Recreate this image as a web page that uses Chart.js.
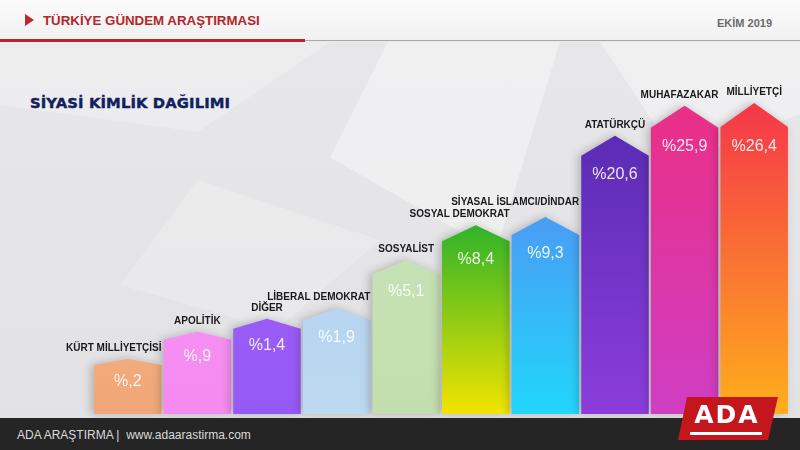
<!DOCTYPE html>
<html><head><meta charset="utf-8">
<script src="https://cdn.jsdelivr.net/npm/chart.js@4"></script>
<style>
html,body{margin:0;padding:0;}
body{width:800px;height:450px;position:relative;overflow:hidden;font-family:"Liberation Sans",Arial,sans-serif;
 background:linear-gradient(180deg,#fbfbfb 0,#f1f1f1 39px,#e7e7e9 42px,#e2e2e4 100%);}
.facet{position:absolute;background:rgba(255,255,255,0.38);}
#redline{position:absolute;left:0;top:39px;width:305px;height:3px;background:#b8262c;}
#greyline{position:absolute;left:305px;top:40px;width:495px;height:1px;background:#a9a9a9;}
#tri{position:absolute;left:25px;top:14px;width:0;height:0;border-top:6px solid transparent;border-bottom:6px solid transparent;border-left:9px solid #c0272d;}
#htitle{position:absolute;left:43px;top:13px;font-size:13.3px;font-weight:bold;color:#b5262c;}
#date{position:absolute;right:28px;top:17px;font-size:11px;font-weight:bold;color:#6b6b6b;}
#title{position:absolute;left:30px;top:94px;font-size:14.8px;font-weight:bold;color:#10215e;-webkit-text-stroke:0.4px #10215e;font-family:"DejaVu Sans",sans-serif;letter-spacing:0.1px;}
#footer{position:absolute;left:0;top:418px;width:800px;height:32px;background:#252525;z-index:2;}
#ftext{position:absolute;left:17px;top:428px;font-size:12px;color:#dadada;z-index:3;white-space:pre;}
#logo{position:absolute;left:678px;top:397px;width:100px;height:43px;background:#c4171d;z-index:4;
 clip-path:polygon(9px 0,100px 0,90px 43px,0 43px);}
#logotxt{position:absolute;left:688px;top:400px;width:78px;text-align:center;font-size:25px;font-weight:bold;color:#fff;z-index:5;letter-spacing:2px;font-family:"DejaVu Sans",sans-serif;}
#logostrip{position:absolute;left:690px;top:432px;width:72px;height:3px;background:#fff;z-index:5;}
canvas{position:absolute;left:0;top:0;z-index:1;}
</style></head>
<body>
<div class="facet" style="left:330px;top:42px;width:230px;height:210px;clip-path:polygon(25% 0,100% 0,72% 100%,0 55%);"></div>
<div class="facet" style="left:600px;top:42px;width:200px;height:120px;clip-path:polygon(0 0,100% 0,100% 60%,40% 100%);"></div>
<div class="facet" style="left:0;top:42px;width:330px;height:90px;background:rgba(255,255,255,0.25);clip-path:polygon(0 0,100% 0,60% 100%,0 70%);"></div>
<div class="facet" style="left:120px;top:180px;width:260px;height:150px;background:rgba(255,255,255,0.2);clip-path:polygon(30% 0,100% 40%,60% 100%,0 70%);"></div>
<div id="tri"></div>
<div id="htitle">TÜRKİYE GÜNDEM ARAŞTIRMASI</div>
<div id="date">EKİM 2019</div>
<div id="redline"></div><div id="greyline"></div>
<div id="title">SİYASİ KİMLİK DAĞILIMI</div>
<canvas id="c" width="800" height="450"></canvas>
<div id="footer"></div>
<div id="ftext">ADA ARAŞTIRMA |  www.adaarastirma.com</div>
<div id="logo"></div>
<div id="logotxt">ADA</div>
<div id="logostrip"></div>
<script>
// ---- data ----
const categories = ['KÜRT MİLLİYETÇİSİ','APOLİTİK','DİĞER','LİBERAL DEMOKRAT','SOSYALİST','SOSYAL DEMOKRAT','SİYASAL İSLAMCI/DİNDAR','ATATÜRKÇÜ','MUHAFAZAKAR','MİLLİYETÇİ'];
const values = [0.2, 0.9, 1.4, 1.9, 5.1, 8.4, 9.3, 20.6, 25.9, 26.4];
// ---- styles ----
const colorTop =    ['#f2ab7c','#f68ef3','#9a5cf6','#b7d5f1','#c6e2b4','#2fb32a','#4a9cf5','#5a2cb5','#ea2f86','#f5364a'];
const colorBottom = ['#f0a676','#f58af0','#955af5','#bcd9f0','#c3deae','#f2e400','#21d6fa','#8c3ddb','#cf3ec4','#ffae1c'];
const Y_MIN = -0.314;

function fmt(v){ const s=v.toFixed(1).replace('.',','); return '%' + (v<1 ? s.replace(/^0/,'') : s); }

const sq = v => Math.sign(v)*Math.sqrt(Math.abs(v));
class SqrtScale extends Chart.LinearScale {
  static id = 'sqrt';
  static defaults = {};
  getPixelForValue(value){
    const a=sq(this.min), b=sq(this.max);
    return this.getPixelForDecimal((sq(value)-a)/(b-a));
  }
  getValueForPixel(pixel){
    const a=sq(this.min), b=sq(this.max);
    const s=a+this.getDecimalForPixel(pixel)*(b-a);
    return Math.sign(s)*s*s;
  }
}
Chart.register(SqrtScale);

const roofPlugin = {
  id:'roofs',
  afterDatasetsDraw(chart){
    const ctx=chart.ctx;
    const meta=chart.getDatasetMeta(0);
    const bars=meta.data.map((el,i)=>{
      const p=el.getProps(['x','y','base','width'],true);
      return {...p, drop:6+2*i};
    });
    bars.forEach((b,i)=>{
      const l=b.x-b.width/2, r=b.x+b.width/2;
      const g=ctx.createLinearGradient(0,b.y,0,b.base);
      g.addColorStop(0,colorTop[i]); g.addColorStop(1,colorBottom[i]);
      ctx.save();
      ctx.shadowColor='rgba(0,0,0,0.22)'; ctx.shadowBlur=8; ctx.shadowOffsetX=-3;
      ctx.beginPath();
      ctx.moveTo(l,b.base); ctx.lineTo(l,b.y+b.drop); ctx.lineTo(b.x,b.y);
      ctx.lineTo(r,b.y+b.drop); ctx.lineTo(r,b.base); ctx.closePath();
      ctx.fillStyle=g; ctx.fill();
      ctx.restore();
    });
    ctx.save();
    let prev=null;
    bars.forEach((b,i)=>{
      ctx.font='16px "Liberation Sans", Arial, sans-serif';
      ctx.fillStyle='rgba(255,255,255,0.88)';
      ctx.textAlign='center'; ctx.textBaseline='middle';
      ctx.fillText(fmt(values[i]), b.x, b.y+b.drop*1.2+15);
      ctx.font='bold 10px "Liberation Sans", Arial, sans-serif';
      ctx.fillStyle='#1a1a1a';
      const w=ctx.measureText(categories[i]).width;
      const r=b.x+b.width/2;
      const cx=Math.min(b.x, r-w/2);
      let by=b.y-8;
      if(prev && cx-w/2 < prev.right && by > prev.base-10){ by = prev.base-12; }
      ctx.textBaseline='alphabetic';
      ctx.fillText(categories[i], cx, by);
      prev={right:cx+w/2, base:by};
    });
    ctx.restore();
  }
};

new Chart(document.getElementById('c'), {
  type:'bar',
  data:{ labels:categories, datasets:[{ data:values, base:Y_MIN, backgroundColor:'rgba(0,0,0,0)', borderWidth:0,
    barPercentage:0.97, categoryPercentage:1 }]},
  options:{
    responsive:false, animation:false, devicePixelRatio:1,
    layout:{padding:{left:93,right:11,top:103,bottom:36}},
    plugins:{legend:{display:false},tooltip:{enabled:false}},
    scales:{
      x:{display:false},
      y:{type:'sqrt', display:false, min:Y_MIN, max:Math.max(...values)}
    }
  },
  plugins:[roofPlugin]
});
</script>
</body></html>
